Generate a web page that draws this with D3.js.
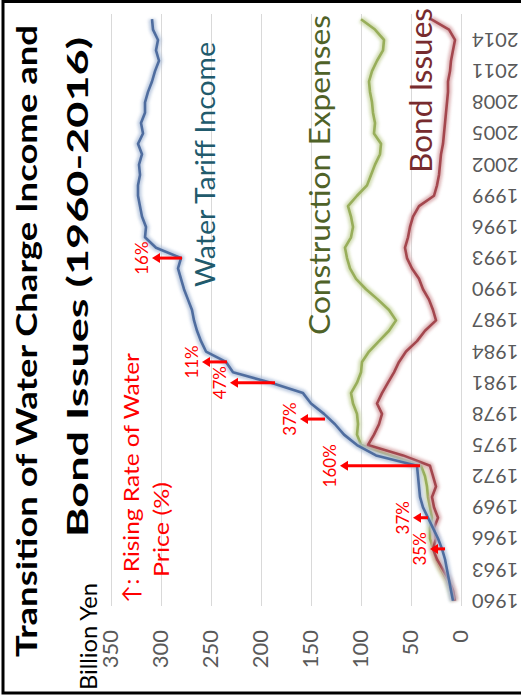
<!DOCTYPE html>
<html>
<head>
<meta charset="utf-8">
<script src="https://cdn.jsdelivr.net/npm/d3@7"></script>
<style>
  html, body { margin: 0; padding: 0; background: #fff; }
  svg { display: block; }
</style>
</head>
<body>
<svg id="chart" width="521" height="697"></svg>
<script>
// Fiscal years on the category axis
const years = [1960,1961,1962,1963,1964,1965,1966,1967,1968,1969,
               1970,1971,1972,1973,1974,1975,1976,1977,1978,1979,
               1980,1981,1982,1983,1984,1985,1986,1987,1988,1989,
               1990,1991,1992,1993,1994,1995,1996,1997,1998,1999,
               2000,2001,2002,2003,2004,2005,2006,2007,2008,2009,
               2010,2011,2012,2013,2014,2015,2016];
const yearTicks = [1960,1963,1966,1969,1972,1975,1978,1981,1984,1987,
                   1990,1993,1996,1999,2002,2005,2008,2011,2014];
const valueTicks = [0,50,100,150,200,250,300,350];

// Billion yen per fiscal year
const waterTariffIncome = [8,10,12,14,16,19,23,28,33,38,
                           41,42,43,44,85,104,117,126,137,150,
                           158,190,228,235,255,260,264,267,269,273,
                           277,280,283,280,305,316,315,319,321,323,
                           323,321,322,319,323,318,320,316,316,313,
                           309,306,302,305,303,308,309];
const constructionExpenses = [7,10,14,20,25,28,31,31,29,31,
                              33,34,36,40,70,100,104,103,104,108,
                              110,104,100,99,92,82,72,65,72,83,
                              95,105,111,114,116,110,108,110,113,104,
                              94,90,86,81,80,87,86,88,89,91,
                              92,89,84,78,77,86,100];
const bondIssues = [6,8,12,18,24,28,25,27,23,27,
                    29,25,28,31,58,93,87,82,79,84,
                    79,73,67,62,55,44,36,25,28,32,
                    38,42,49,54,56,53,51,48,42,27,
                    24,22,21,20,18,17,16,15,14,13,
                    13,11,10,8,6,12,30];

// Water price increases: year, arrow base and tip (billion yen), rate label
const priceRiseYears  = [1965, 1968, 1973, 1977.5, 1981, 1983, 1993];
const priceRiseFrom   = [16, 33, 41, 136, 186, 234, 279];
const priceRiseTo     = [31, 48, 121, 161, 231, 259, 309];
const priceRiseLabels = ["35%", "37%", "160%", "37%", "47%", "11%", "16%"];

const FONT = "Lato, 'Open Sans', 'DejaVu Sans', sans-serif";
const svg = d3.select("#chart");

// Outer frame
svg.append("rect")
  .attr("x", 3).attr("y", 1.5).attr("width", 540).attr("height", 691.5)
  .attr("fill", "#fff").attr("stroke", "#000").attr("stroke-width", 3);

// Plot area (chart turned on its side: values run right-to-left, years bottom-to-top)
const plotTop = 14, plotBottom = 606, plotLeft = 111, plotRight = 461;
const x = d3.scaleLinear().domain([0, 350]).range([plotRight, plotLeft]);
const yBand = d3.scaleBand().domain(years).range([plotBottom, plotTop]);
const half = yBand.bandwidth() / 2;
const y = d3.scaleLinear()
  .domain([years[0], years[years.length - 1]])
  .range([yBand(years[0]) + half, yBand(years[years.length - 1]) + half]);

// Gridlines
svg.append("g")
  .attr("transform", `translate(0,${plotBottom})`)
  .call(d3.axisBottom(x).tickValues(valueTicks).tickSize(-(plotBottom - plotTop)).tickFormat(""))
  .call(g => g.select(".domain").remove())
  .call(g => g.selectAll(".tick line").attr("stroke", "#d9d9d9").attr("stroke-width", 1));

// Value tick labels
svg.append("g").selectAll("text")
  .data(valueTicks).join("text")
  .attr("transform", d => `translate(${x(d) + 7},630) rotate(-90)`)
  .attr("text-anchor", "end")
  .attr("font-family", FONT).attr("font-size", 22).attr("fill", "#595959")
  .text(d => d);

// Year tick labels (upside down)
svg.append("g").selectAll("text")
  .data(yearTicks).join("text")
  .attr("transform", d => `translate(472,${yBand(d) + half - 7}) rotate(180)`)
  .attr("text-anchor", "end")
  .attr("font-family", FONT).attr("font-size", 20).attr("fill", "#595959")
  .text(d => d);

// Soft glow under the lines
const defs = svg.append("defs");
defs.append("filter").attr("id", "glow")
  .attr("x", "-20%").attr("y", "-20%").attr("width", "140%").attr("height", "140%")
  .append("feGaussianBlur").attr("stdDeviation", 1.6);

const line = d3.line().x(d => x(d[1])).y(d => y(d[0])).curve(d3.curveLinear);
const series = [
  { values: constructionExpenses, color: "#98ae5a", glow: "#c9d6a4" },
  { values: bondIssues,           color: "#a4474e", glow: "#d5a3a6" },
  { values: waterTariffIncome,    color: "#4f6d9f", glow: "#aebfd9" }
];
series.forEach(s => {
  const pts = years.map((yr, i) => [yr, s.values[i]]);
  svg.append("path").attr("d", line(pts))
    .attr("fill", "none").attr("stroke", s.glow).attr("stroke-width", 7)
    .attr("stroke-linejoin", "round").attr("opacity", 0.8).attr("filter", "url(#glow)");
  svg.append("path").attr("d", line(pts))
    .attr("fill", "none").attr("stroke", s.color).attr("stroke-width", 2.6)
    .attr("stroke-linejoin", "round");
});

// Price-rise arrows and labels
const arrows = svg.append("g");
priceRiseYears.forEach((yr, i) => {
  const yy = y(yr), x0 = x(priceRiseFrom[i]), x1 = x(priceRiseTo[i]);
  arrows.append("line")
    .attr("x1", x0).attr("y1", yy).attr("x2", x1 + 6).attr("y2", yy)
    .attr("stroke", "#ff0000").attr("stroke-width", 3);
  arrows.append("path")
    .attr("d", `M${x1},${yy} L${x1 + 8},${yy - 5} L${x1 + 8},${yy + 5} Z`)
    .attr("fill", "#ff0000");
  arrows.append("text")
    .attr("transform", `translate(${x1 - 4},${yy}) rotate(-90)`)
    .attr("text-anchor", "middle")
    .attr("font-family", FONT).attr("font-size", 17).attr("fill", "#ff0000")
    .text(priceRiseLabels[i]);
});

// Rotated text helper: reads bottom-to-top, baseline at bx, starting at sy
function vtext(bx, sy, str, opts) {
  const t = svg.append("text")
    .attr("transform", `translate(${bx},${sy}) rotate(-90)`)
    .attr("text-anchor", "start")
    .attr("font-family", FONT)
    .attr("font-size", opts.size)
    .attr("font-weight", opts.weight || "normal")
    .attr("fill", opts.color || "#000")
    .text(str);
  if (opts.length) t.attr("textLength", opts.length).attr("lengthAdjust", "spacingAndGlyphs");
  return t;
}

// Title
vtext(37, 657, "Transition of Water Charge Income and", { size: 29, weight: "bold", length: 632 });
vtext(88, 537, "Bond Issues (1960-2016)", { size: 29, weight: "bold", length: 500 });

// Unit
vtext(97, 690, "Billion Yen", { size: 24, length: 107 });

// Legend for the arrows
vtext(139, 603, "\u2191: Rising Rate of Water", { size: 22, color: "#ff0000", length: 250 });
vtext(169, 577, "Price (%)", { size: 22, color: "#ff0000", length: 95 });

// Series labels
vtext(215, 287, "Water Tariff Income", { size: 27, color: "#215a6c", length: 245 });
vtext(330, 335, "Construction Expenses", { size: 28, color: "#4f6228", length: 320 });
vtext(432, 173, "Bond Issues", { size: 30, color: "#772b2e", length: 165 });
</script>
</body>
</html>
